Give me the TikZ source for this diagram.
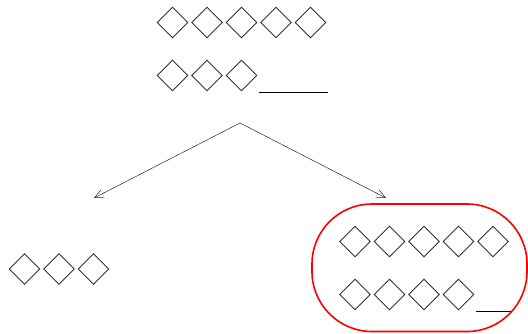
\documentclass[tikz,border=0pt]{standalone}
\usepackage{tikz}
\usetikzlibrary{arrows.meta,positioning,shapes.geometric}

\begin{document}
\begin{tikzpicture}[
  x=1pt, y=-1pt,
  node distance=4pt,
  token/.style={diamond, draw=black!80, line width=0.9pt, inner sep=0pt,
    outer sep=0pt, minimum size=30.5pt},
  blank/.style={draw=black, line width=1pt},
  split/.style={-{Straight Barb[length=9pt,width=8pt]}, line width=0.5pt, draw=black!85},
  group/.style={draw=red, line width=1.6pt, rounded corners=60pt}
]
\useasboundingbox (0,0) rectangle (528,333);
% top: five tokens, then three tokens and a blank
\node[token] at (172.5,22.5) (t1) {};
\node[token, right=of t1] (t2) {};
\node[token, right=of t2] (t3) {};
\node[token, right=of t3] (t4) {};
\node[token, right=of t4] (t5) {};
\node[token] at (172.5,75.5) (s1) {};
\node[token, right=of s1] (s2) {};
\node[token, right=of s2] (s3) {};
\draw[blank] (259,92) -- (328,92);
% split
\coordinate (apex) at (240,123);
\coordinate (lefttip) at (94,198);
\coordinate (righttip) at (386,198);
\draw[split] (apex) -- (lefttip);
\draw[split] (apex) -- (righttip);
% left branch
\node[token] at (24.5,269) (l1) {};
\node[token, right=of l1] (l2) {};
\node[token, right=of l2] (l3) {};
% right branch
\node[token] at (355,241.5) (r1) {};
\node[token, right=of r1] (r2) {};
\node[token, right=of r2] (r3) {};
\node[token, right=of r3] (r4) {};
\node[token, right=of r4] (r5) {};
\node[token] at (355,294.5) (q1) {};
\node[token, right=of q1] (q2) {};
\node[token, right=of q2] (q3) {};
\node[token, right=of q3] (q4) {};
\draw[blank] (476,311) -- (511,311);
\draw[group] (312,204) rectangle (527,331.5);
\end{tikzpicture}
\end{document}
